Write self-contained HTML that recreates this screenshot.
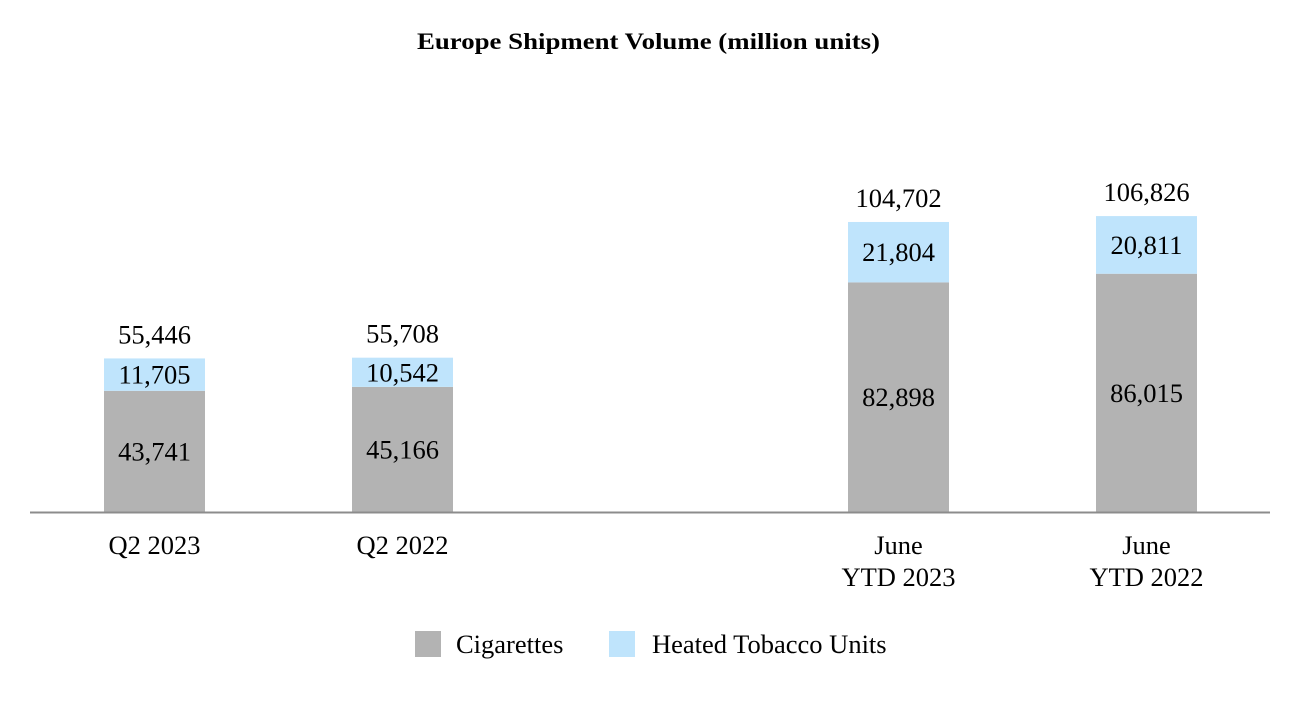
<!DOCTYPE html>
<html><head><meta charset="utf-8"><style>
html,body{margin:0;padding:0;background:#fff;}
svg text{font-family:"Liberation Serif",serif;fill:#000;}
</style></head><body>
<svg id="chart" width="1300" height="700" xmlns="http://www.w3.org/2000/svg">
<text x="417" y="49" font-size="23" font-weight="bold" textLength="463" lengthAdjust="spacingAndGlyphs">Europe Shipment Volume (million units)</text>
<g id="bars"></g>
<line x1="30" y1="512.5" x2="1270" y2="512.5" stroke="#8c8c8c" stroke-width="2"/>
<g>
<rect x="415" y="631" width="26" height="26" fill="#b3b3b3"/>
<text x="456" y="653" font-size="26.5">Cigarettes</text>
<rect x="609" y="631" width="26" height="26" fill="#bfe4fc"/>
<text x="652" y="653" font-size="26.5">Heated Tobacco Units</text>
</g>
</svg>
<script>
const categories = [["Q2 2023"],["Q2 2022"],["June","YTD 2023"],["June","YTD 2022"]];
const cigarettes = [43741, 45166, 82898, 86015];
const htu = [11705, 10542, 21804, 20811];
const totals = [55446, 55708, 104702, 106826];

const svgNS = "http://www.w3.org/2000/svg";
const g = document.getElementById("bars");
const baseY = 512;
const scale = 0.00277;
const centers = [154.5, 402.5, 898.5, 1146.5];
const barW = 101;
function y(v){ return baseY - v*scale; }
function fmt(v){ return v.toLocaleString("en-US"); }
function mk(tag, attrs, txt){ const e=document.createElementNS(svgNS,tag); for(const k in attrs) e.setAttribute(k,attrs[k]); if(txt!==undefined) e.textContent=txt; g.appendChild(e); return e; }
categories.forEach((cat,i)=>{
  const cx = centers[i], x0 = cx - barW/2;
  const c = cigarettes[i], h = htu[i], t = totals[i];
  const r1 = mk("rect",{x:x0,y:y(c),width:barW,height:baseY-y(c),fill:"#b3b3b3"});
  
  
  const r2 = mk("rect",{x:x0,y:y(c+h),width:barW,height:y(c)-y(c+h),fill:"#bfe4fc"});
  
  
  const l1 = mk("text",{x:cx,y:(y(c)+baseY)/2+9,"text-anchor":"middle","font-size":26.5},fmt(c));
  
  
  const l2 = mk("text",{x:cx,y:(y(c)+y(c+h))/2+9,"text-anchor":"middle","font-size":26.5},fmt(h));
  
  
  const l3 = mk("text",{x:cx,y:y(t)-15,"text-anchor":"middle","font-size":26.5},fmt(t));
  
  
  cat.forEach((line,j)=>{
    const tl = mk("text",{x:cx,y:554+j*32,"text-anchor":"middle","font-size":26.5},line);
    
    
  });
});
</script>
</body></html>
